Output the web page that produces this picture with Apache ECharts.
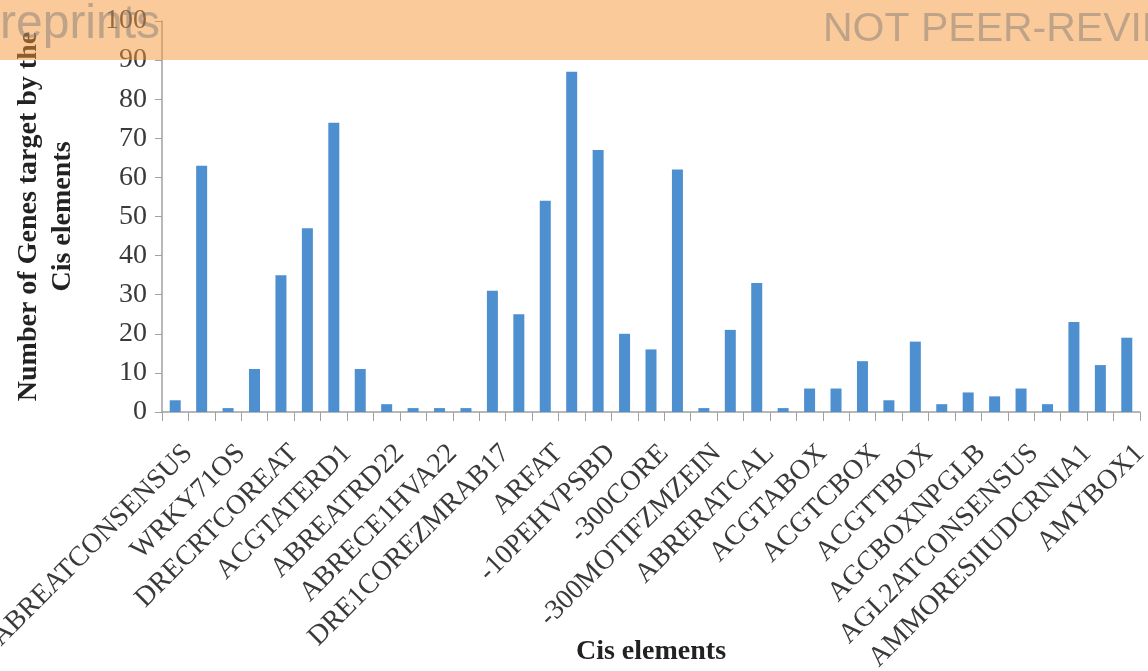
<!DOCTYPE html>
<html>
<head>
<meta charset="utf-8">
<script src="https://cdn.jsdelivr.net/npm/echarts@6/dist/echarts.min.js"></script>
<style>
  html, body { margin: 0; padding: 0; background: #ffffff; }
  #chart { width: 1148px; height: 671px; }
</style>
</head>
<body>
<div id="chart"></div>
<script>
// Cis-acting elements (every other one carries a visible axis label)
const categories = [
  'ABREATCONSENSUS', 'ABRELATERD1', 'WRKY71OS', 'ABREOSRAB21', 'DRECRTCOREAT',
  'ACGTABREMOTIFA2OSEM', 'ACGTATERD1', 'ABREMOTIFAOSOSEM', 'ABREATRD22', 'ABRE2HVA1',
  'ABRECE1HVA22', 'ABRE3HVA22', 'DRE1COREZMRAB17', 'ANAERO1CONSENSUS', 'ARFAT',
  'ARR1AT', '-10PEHVPSBD', '-300ELEMENT', '-300CORE', '2SSEEDPROTBANAPA',
  '-300MOTIFZMZEIN', 'AACACOREOSGLUB1', 'ABRERATCAL', 'ACGTOSGLUB1', 'ACGTABOX',
  'ACGTROOT1', 'ACGTCBOX', 'ACIIPVPAL2', 'ACGTTBOX', 'AGATCONSENSUS',
  'AGCBOXNPGLB', 'AGMOTIFNTMYB2', 'AGL2ATCONSENSUS', 'AMMORESVDCRNIA1', 'AMMORESIIUDCRNIA1',
  'AMYBOX2', 'AMYBOX1'
];

// Number of genes targeted by each element
const geneCounts = [
  3, 63, 1, 11, 35, 47, 74, 11, 2, 1,
  1, 1, 31, 25, 54, 87, 67, 20, 16, 62,
  1, 21, 33, 1, 6, 6, 13, 3, 18, 2,
  5, 4, 6, 2, 23, 12, 19
];

const yTicks = { min: 0, max: 100, step: 10 };

const axisTitleY = 'Number of Genes target by the\nCis elements';
const axisTitleX = 'Cis elements';
const bannerLeft = 'reprints';
const bannerRight = 'NOT PEER-REVIEWED';

const serif = '"Liberation Serif", "Times New Roman", serif';
const axisGray = '#a0a0a0';
const textDark = '#3a3a3a';

const chart = echarts.init(document.getElementById('chart'), null, { renderer: 'canvas' });

chart.setOption({
  backgroundColor: '#ffffff',
  animation: false,
  grid: {
    left: 162, right: 8, top: 21, bottom: 259,
    outerBoundsMode: 'none'
  },
  xAxis: {
    type: 'category',
    data: categories,
    boundaryGap: true,
    name: axisTitleX,
    nameLocation: 'middle',
    nameGap: 226,
    nameMoveOverlap: false,
    nameTextStyle: { fontFamily: serif, fontWeight: 'bold', fontSize: 28, color: '#222' },
    axisLine: { lineStyle: { color: axisGray, width: 1.5 } },
    axisTick: { show: true, length: 9, interval: 0, lineStyle: { color: axisGray } },
    axisLabel: {
      interval: 1,
      rotate: 45,
      margin: 24,
      align: 'right',
      verticalAlign: 'top',
      lineHeight: 37,
      fontFamily: serif,
      fontSize: 28,
      color: textDark
    },
    splitLine: { show: false }
  },
  yAxis: {
    type: 'value',
    min: yTicks.min,
    max: yTicks.max,
    interval: yTicks.step,
    name: axisTitleY,
    nameLocation: 'middle',
    nameRotate: 90,
    nameGap: 82,
    nameMoveOverlap: false,
    nameTextStyle: { fontFamily: serif, fontWeight: 'bold', fontSize: 28, lineHeight: 34, color: '#222' },
    axisLine: { show: true, lineStyle: { color: axisGray, width: 1.5 } },
    axisTick: { show: true, length: 7, lineStyle: { color: axisGray } },
    axisLabel: { margin: 15, fontFamily: serif, fontSize: 28, color: textDark },
    splitLine: { show: false }
  },
  series: [{
    type: 'bar',
    data: geneCounts,
    barWidth: 11,
    itemStyle: { color: '#4e8fd0' }
  }],
  graphic: [
    {
      type: 'rect',
      z: 100,
      shape: { x: 0, y: 0, width: 1148, height: 60 },
      style: { fill: 'rgba(245,150,55,0.5)' }
    },
    {
      type: 'text',
      z: 101,
      left: 0, top: 1,
      style: {
        text: bannerLeft,
        font: '48px "Liberation Sans", Arial, sans-serif',
        fill: 'rgba(110,110,110,0.42)'
      }
    },
    {
      type: 'text',
      z: 101,
      left: 823, top: 9,
      style: {
        text: bannerRight,
        font: '41px "Liberation Sans", Arial, sans-serif',
        fill: 'rgba(110,110,110,0.42)'
      }
    }
  ]
});
</script>
</body>
</html>
